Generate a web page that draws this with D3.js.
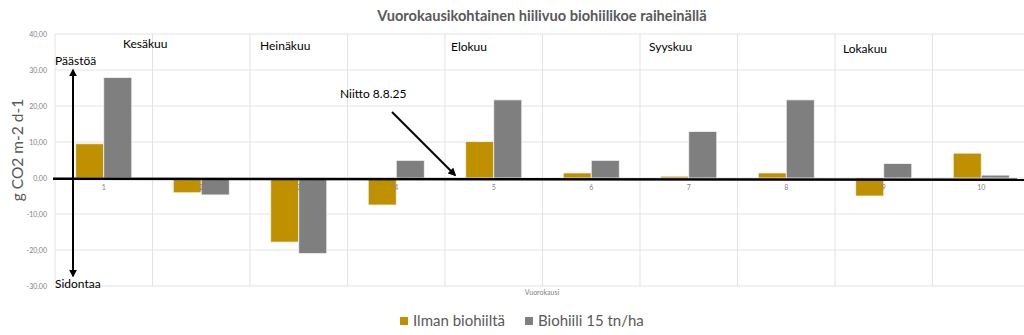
<!DOCTYPE html>
<html><head><meta charset="utf-8">
<script src="https://cdn.jsdelivr.net/npm/d3@7"></script>
<style>body{margin:0;background:#fff}svg{display:block}</style>
</head><body>
<svg id="c" width="1024" height="335"></svg>
<script>
const categories = ["1","2","3","4","5","6","7","8","9","10"];
const seriesNames = ["Ilman biohiiltä","Biohiili 15 tn/ha"];
const ilman = [9.5,-4.1,-17.8,-7.5,10.1,1.4,0.5,1.4,-5.0,6.9];
const biohiili = [27.9,-4.7,-21.0,4.9,21.7,4.9,12.9,21.7,4.0,0.8];
const yTicks = [-30,-20,-10,0,10,20,30,40];
const months = ["Kesäkuu","Heinäkuu","Elokuu","Syyskuu","Lokakuu"];
const colors = ["#BF9000","#7F7F7F"];

const svg = d3.select("#c");
const font = "Lato, 'Open Sans', sans-serif";
const L = 55, R = 1030, T = 34, B = 286;
const x = d3.scaleBand().domain(categories).range([L, R]).padding(0);
const x1 = d3.scaleBand().domain(seriesNames).range([0, x.bandwidth()]).paddingInner(0).paddingOuter(0.74);
const y = d3.scaleLinear().domain([-30, 40]).range([B, T]);

// grid
const g = svg.append("g");
g.selectAll("line.h").data(yTicks).join("line")
  .attr("x1", L).attr("x2", 1024).attr("y1", d => y(d)).attr("y2", d => y(d))
  .attr("stroke", "#e3e3e3").attr("stroke-width", 1);
g.selectAll("line.v").data(categories).join("line")
  .attr("x1", d => x(d)).attr("x2", d => x(d)).attr("y1", T).attr("y2", B)
  .attr("stroke", "#e3e3e3").attr("stroke-width", 1);

// y tick labels
svg.append("g").selectAll("text").data(yTicks).join("text")
  .attr("x", 47).attr("y", d => y(d) + 2.5).attr("text-anchor", "end")
  .attr("font-family", font).attr("font-size", 7).attr("fill", "#7f7f7f")
  .text(d => d.toFixed(2).replace(".", ","));

// bars
const data = [ilman, biohiili];
data.forEach((vals, si) => {
  svg.append("g").selectAll("rect").data(categories).join("rect")
    .attr("x", (d) => x(d) + x1(seriesNames[si]))
    .attr("width", x1.bandwidth())
    .attr("y", (d, i) => y(Math.max(0, vals[i])))
    .attr("height", (d, i) => Math.abs(y(vals[i]) - y(0)))
    .attr("fill", colors[si]).attr("stroke", "#f3f3f3").attr("stroke-width", 0.8);
});

// x tick labels
svg.append("g").selectAll("text").data(categories).join("text")
  .attr("x", d => x(d) + x.bandwidth() / 2).attr("y", 189.5).attr("text-anchor", "middle")
  .attr("font-family", font).attr("font-size", 7).attr("fill", "#7f7f7f").text(d => d);

// zero line (hand-drawn annotation)
svg.append("line").attr("x1", 53).attr("x2", 1024).attr("y1", y(0) + 0.7).attr("y2", y(0) + 1.8)
  .attr("stroke", "#000").attr("stroke-width", 2.6);

// title
svg.append("text").attr("x", 542).attr("y", 21).attr("text-anchor", "middle")
  .attr("font-family", font).attr("font-weight", "bold").attr("font-size", 14.6).attr("fill", "#595959")
  .text("Vuorokausikohtainen hiilivuo biohiilikoe raiheinällä");

// y axis title
svg.append("text").attr("transform", "translate(23,150) rotate(-90)").attr("text-anchor", "middle")
  .attr("font-family", font).attr("font-size", 15.5).attr("fill", "#595959").text("g CO2 m-2 d-1");

// x axis title
svg.append("text").attr("x", 542).attr("y", 295).attr("text-anchor", "middle")
  .attr("font-family", font).attr("font-size", 7).attr("fill", "#7f7f7f").text("Vuorokausi");

// month labels
const monthPos = [[123,48],[260,50],[451,51],[649,51],[843,53]];
svg.append("g").selectAll("text").data(months).join("text")
  .attr("x", (d, i) => monthPos[i][0]).attr("y", (d, i) => monthPos[i][1])
  .attr("font-family", font).attr("font-size", 12).attr("fill", "#000").text(d => d);

// arrows
const defs = svg.append("defs");
defs.append("marker").attr("id", "ah").attr("viewBox", "0 0 10 10").attr("refX", 8).attr("refY", 5)
  .attr("markerWidth", 4).attr("markerHeight", 4).attr("orient", "auto-start-reverse")
  .append("path").attr("d", "M0,0 L10,5 L0,10 z").attr("fill", "#000");
svg.append("line").attr("x1", 73).attr("x2", 73).attr("y1", 70).attr("y2", 276)
  .attr("stroke", "#000").attr("stroke-width", 2)
  .attr("marker-start", "url(#ah)").attr("marker-end", "url(#ah)");
svg.append("line").attr("x1", 392).attr("y1", 112).attr("x2", 455).attr("y2", 175)
  .attr("stroke", "#000").attr("stroke-width", 2).attr("marker-end", "url(#ah)");

svg.append("text").attr("x", 55).attr("y", 65).attr("font-family", font).attr("font-size", 12).attr("fill", "#000").text("Päästöä");
svg.append("text").attr("x", 55).attr("y", 288).attr("font-family", font).attr("font-size", 12).attr("fill", "#000").text("Sidontaa");
svg.append("text").attr("x", 340).attr("y", 98).attr("font-family", font).attr("font-size", 12).attr("fill", "#000").text("Niitto 8.8.25");

// legend
const legX = [400, 525];
const lg = svg.append("g").selectAll("g").data(seriesNames).join("g")
  .attr("transform", (d, i) => `translate(${legX[i]},317)`);
lg.append("rect").attr("width", 8).attr("height", 8).attr("fill", (d, i) => colors[i]);
lg.append("text").attr("x", 13).attr("y", 8.5).attr("font-family", font).attr("font-size", 15)
  .attr("fill", "#595959").text(d => d);
</script>
</body></html>
